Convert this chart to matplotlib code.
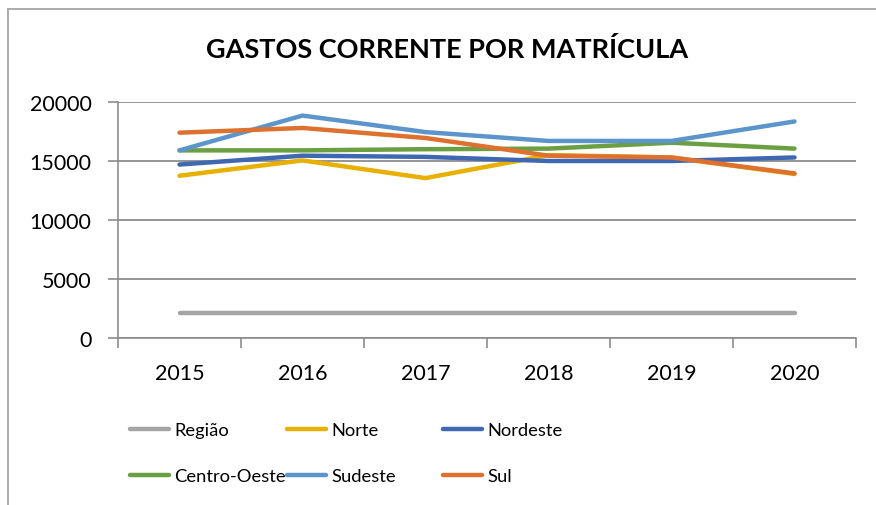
import matplotlib
matplotlib.use("Agg")
import matplotlib.pyplot as plt
from matplotlib.lines import Line2D

plt.rcParams['font.family'] = ['Lato', 'DejaVu Sans']

# dados
anos = ['2015', '2016', '2017', '2018', '2019', '2020']
regiao = [2100, 2100, 2100, 2100, 2100, 2100]
norte = [13750, 15050, 13550, 15500, 15300, 13900]
nordeste = [14700, 15450, 15350, 15000, 15000, 15300]
centro_oeste = [15900, 15900, 16000, 16050, 16550, 16050]
sudeste = [15900, 18850, 17450, 16700, 16700, 18350]
sul = [17400, 17800, 16950, 15450, 15300, 13950]

series = [
    ('Região', regiao, '#A5A5A5'),
    ('Norte', norte, '#E8B000'),
    ('Nordeste', nordeste, '#4068B2'),
    ('Centro-Oeste', centro_oeste, '#6A9F42'),
    ('Sudeste', sudeste, '#5B95CB'),
    ('Sul', sul, '#DE7030'),
]

fig = plt.figure(figsize=(8.76, 5.06), dpi=100)
ax = fig.add_axes([118 / 876, 1 - 339 / 506, 738 / 876, 236 / 506])

x = list(range(len(anos)))
linhas = {}
for nome, vals, cor in series:
    ln, = ax.plot(x, vals, color=cor, linewidth=3.2, label=nome,
                  solid_capstyle='round')
    linhas[nome] = ln

ax.set_xlim(-0.5, 5.5)
ax.set_ylim(0, 20000)
ax.set_yticks([0, 5000, 10000, 15000, 20000])
ax.grid(axis='y', color='#8C8C8C', linewidth=1.3)
ax.set_axisbelow(True)

# ticks do eixo x nas divisoes das categorias, rotulos no meio
ax.set_xticks([i - 0.5 for i in range(len(anos) + 1)])
ax.set_xticklabels([])
ax.set_xticks(x, minor=True)
ax.set_xticklabels(anos, minor=True, fontsize=15.5)
ax.tick_params(axis='x', which='major', length=7, color='#8C8C8C', width=1.2)
ax.tick_params(axis='x', which='minor', length=0, pad=18)
ax.tick_params(axis='y', length=7, color='#8C8C8C', width=1.2, labelsize=15.5, pad=12)

for s in ['top', 'right']:
    ax.spines[s].set_visible(False)
for s in ['left', 'bottom']:
    ax.spines[s].set_color('#8C8C8C')
    ax.spines[s].set_linewidth(1.2)

fig.text(0.51, 1 - 50 / 506, 'GASTOS CORRENTE POR MATRÍCULA', ha='center', va='center',
         fontsize=19.5, fontweight='bold')

# legenda em tres colunas de largura igual
colunas = [['Região', 'Centro-Oeste'], ['Norte', 'Sudeste'], ['Nordeste', 'Sul']]
xs = [130, 287, 443]
for xc, nomes in zip(xs, colunas):
    hs = [linhas[n] for n in nomes]
    fig.legend(hs, nomes, loc='upper left', bbox_to_anchor=(xc / 876, 1 - 423 / 506),
               frameon=False, fontsize=13.2, handlelength=2.15, handletextpad=0.25,
               labelspacing=1.65, borderpad=0, borderaxespad=0)

# moldura do grafico
fig.add_artist(Line2D([8 / 876, 8 / 876], [0, 1 - 10 / 506], transform=fig.transFigure,
                      color='#A6A6A6', linewidth=1.3))
fig.add_artist(Line2D([8 / 876, 1], [1 - 10 / 506, 1 - 10 / 506], transform=fig.transFigure,
                      color='#A6A6A6', linewidth=1.3))

fig.savefig('out.png', dpi=100)
